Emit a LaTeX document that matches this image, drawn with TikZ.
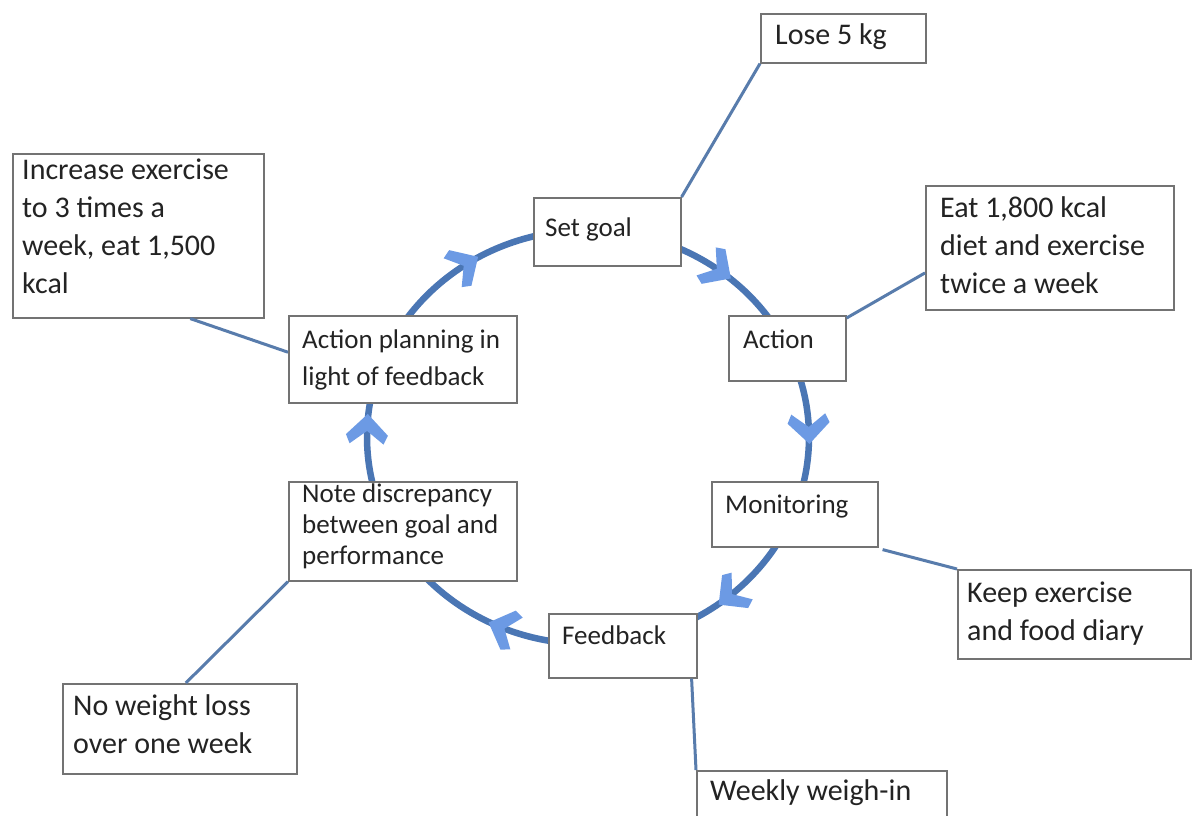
\documentclass[tikz,border=0pt]{standalone}
\usepackage{fontspec}
\setmainfont{Carlito}
\usetikzlibrary{decorations.markings,calc}
\definecolor{ringblue}{RGB}{74,118,180}
\definecolor{chevblue}{RGB}{108,154,228}
\definecolor{linkblue}{RGB}{88,124,172}
\definecolor{boxgray}{RGB}{115,115,115}
\definecolor{txt}{RGB}{35,35,35}
\newcommand{\mlines}[1]{\begin{tabular}[t]{@{}l@{}}#1\end{tabular}}
\newcommand{\ringchev}{\fill[chevblue] (-15pt,0pt) -- (6pt,21pt) -- (15pt,17pt) -- (2pt,0pt) -- (15pt,-17pt) -- (6pt,-21pt) -- cycle;}
\begin{document}
\begin{tikzpicture}[x=1pt,y=-1pt,
  box/.style={draw=boxgray, line width=1.6pt, fill=white, inner sep=0pt, anchor=north west},
  bigtxt/.style={anchor=base west, inner sep=0pt, text=txt, font=\fontsize{30}{38}\selectfont},
  smalltxt/.style={anchor=base west, inner sep=0pt, text=txt, font=\fontsize{27}{37}\selectfont},
  notetxt/.style={anchor=base west, inner sep=0pt, text=txt, font=\fontsize{27}{31}\selectfont},
  link/.style={draw=linkblue, line width=3pt},
  ring/.style={draw=ringblue, line width=6.5pt}
]
\clip (0,0) rectangle (1192,816);
\fill[white] (0,0) rectangle (1192,816);

% cycle ring with chevron arrows
\draw[ring, postaction={decorate}, decoration={markings,
    mark=at position 0.006 with {\ringchev},
    mark=at position 0.147 with {\ringchev},
    mark=at position 0.346 with {\ringchev},
    mark=at position 0.494 with {\ringchev},
    mark=at position 0.685 with {\ringchev},
    mark=at position 0.864 with {\ringchev}}]
  (588,437) ellipse [x radius=221pt, y radius=207pt];

% boxes
\node[box, minimum width=251pt, minimum height=164pt] (inc) at (12,153) {};
\node[box, minimum width=228pt, minimum height=87pt] (ap) at (288,315) {};
\node[box, minimum width=147pt, minimum height=68pt] (sg) at (533,197) {};
\node[box, minimum width=165pt, minimum height=49pt] (lose) at (760,13) {};
\node[box, minimum width=117pt, minimum height=65pt] (act) at (728,315) {};
\node[box, minimum width=248pt, minimum height=124pt] (eat) at (925,185) {};
\node[box, minimum width=166pt, minimum height=65pt] (mon) at (711,481) {};
\node[box, minimum width=233pt, minimum height=89pt] (keep) at (957,569) {};
\node[box, minimum width=148pt, minimum height=64pt] (fb) at (548,613) {};
\node[box, minimum width=250pt, minimum height=70pt] (weekly) at (696,770) {};
\node[box, minimum width=228pt, minimum height=99pt] (note) at (288,481) {};
\node[box, minimum width=234pt, minimum height=90pt] (nwl) at (62,683) {};

% connectors
\draw[link] (sg.north east) -- (lose.south west);
\draw[link] ([yshift=-3pt]act.north east) -- ($(eat.north west)!0.7!(eat.south west)$);
\draw[link] ([xshift=4pt,yshift=-2pt]mon.south east) -- (keep.north west);
\draw[link] ([xshift=-6pt]fb.south east) -- (weekly.north west);
\draw[link] (note.south west) -- ([xshift=6pt]nwl.north);
\draw[link] ([xshift=52pt]inc.south) -- ($(ap.north west)!0.42!(ap.south west)$);

% texts
\node[bigtxt] (tinc) at (22,179) {\mlines{Increase exercise\\to 3 times a\\week, eat 1,500\\kcal}};
\node[bigtxt] (teat) at (940,217) {\mlines{Eat 1,800 kcal\\diet and exercise\\twice a week}};
\node[bigtxt] (tlose) at (775,45) {Lose 5 kg};
\node[bigtxt] (tkeep) at (967,602) {\mlines{Keep exercise\\and food diary}};
\node[bigtxt] (tnwl) at (73,715) {\mlines{No weight loss\\over one week}};
\node[bigtxt] (tweekly) at (710,800) {Weekly weigh-in};
\node[smalltxt] (tsg) at (545,236) {Set goal};
\node[smalltxt] (tact) at (743,348) {Action};
\node[smalltxt] (tmon) at (725,513) {Monitoring};
\node[smalltxt] (tfb) at (562,644) {Feedback};
\node[smalltxt] (tap) at (302,348) {\mlines{Action planning in\\light of feedback}};
\node[notetxt] (tnote) at (302,502) {\mlines{Note discrepancy\\between goal and\\performance}};
\end{tikzpicture}
\end{document}
